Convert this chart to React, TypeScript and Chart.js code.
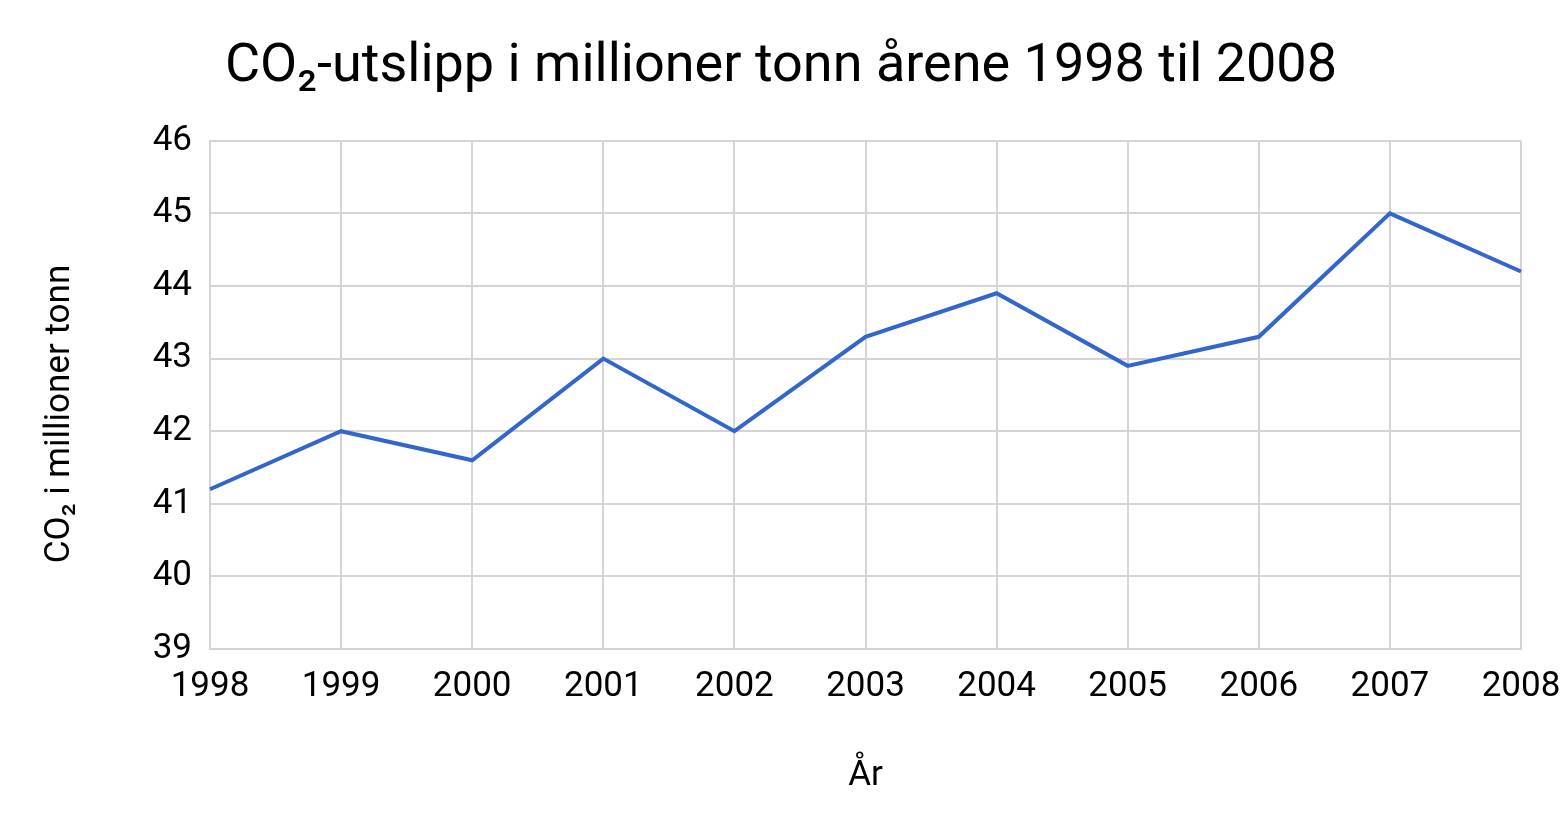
import React, { useEffect, useRef } from "react";
import { Chart, registerables } from "chart.js";

Chart.register(...registerables);

const years: string[] = ["1998", "1999", "2000", "2001", "2002", "2003", "2004", "2005", "2006", "2007", "2008"];
const emissions: number[] = [41.2, 42.0, 41.6, 43.0, 42.0, 43.3, 43.9, 42.9, 43.3, 45.0, 44.2];
const titleText = "CO₂-utslipp i millioner tonn årene 1998 til 2008";
const yTitle = "CO₂ i millioner tonn";
const xTitle = "År";

const FONT = "Roboto, 'Noto Sans', sans-serif";
const GRID = "#d4d4d4";

const yTitlePlugin = {
  id: "yTitlePlugin",
  afterDraw(chart: any) {
    const ctx = chart.ctx;
    ctx.save();
    ctx.translate(60, chart.height / 2 + 2);
    ctx.rotate(-Math.PI / 2);
    ctx.font = `35px ${FONT}`;
    ctx.fillStyle = "#000";
    ctx.textAlign = "center";
    ctx.textBaseline = "middle";
    ctx.fillText(yTitle, 0, 0);
    ctx.restore();
  },
};

export default function App() {
  const ref = useRef<HTMLCanvasElement | null>(null);
  useEffect(() => {
    if (!ref.current) return;
    const chart = new Chart(ref.current, {
      type: "line",
      data: {
        labels: years,
        datasets: [
          {
            label: "CO₂",
            data: emissions,
            borderColor: "#3366cc",
            backgroundColor: "#3366cc",
            borderWidth: 4,
            pointRadius: 0,
            tension: 0,
            fill: false,
          },
        ],
      },
      options: {
        responsive: false,
        animation: false,
        layout: { padding: { top: 0, left: 0, right: 0, bottom: 0 } },
        plugins: {
          legend: { display: false },
          tooltip: { enabled: false },
          title: {
            display: true,
            text: titleText,
            color: "#000",
            font: { family: FONT, size: 54, weight: "normal" },
            padding: { top: 35, bottom: 41 },
          },
        },
        scales: {
          x: {
            type: "category",
            offset: false,
            grid: { color: GRID, lineWidth: 2, drawTicks: false, offset: false },
            border: { color: GRID, width: 2 },
            ticks: {
              color: "#000",
              font: { family: FONT, size: 35 },
              padding: 17,
              maxRotation: 0,
              autoSkip: false,
            },
            title: {
              display: true,
              text: xTitle,
              color: "#000",
              font: { family: FONT, size: 35 },
              padding: { top: 0, bottom: 27 },
            },
            afterFit: (scale: any) => {
              scale.height = 175;
              scale.paddingRight = 41;
              scale.paddingLeft = 0;
            },
          },
          y: {
            min: 39,
            max: 46,
            grid: { color: GRID, lineWidth: 2, drawTicks: false },
            border: { color: GRID, width: 2 },
            ticks: {
              stepSize: 1,
              color: "#000",
              font: { family: FONT, size: 35 },
              padding: 18,
            },
            afterFit: (scale: any) => {
              scale.width = 210;
            },
          },
        },
      },
      plugins: [yTitlePlugin],
    });
    return () => chart.destroy();
  }, []);
  return (
    <canvas
      ref={ref}
      width={1562}
      height={824}
      style={{ position: "fixed", left: 0, top: 0, display: "block", width: 1562, height: 824 }}
    />
  );
}
